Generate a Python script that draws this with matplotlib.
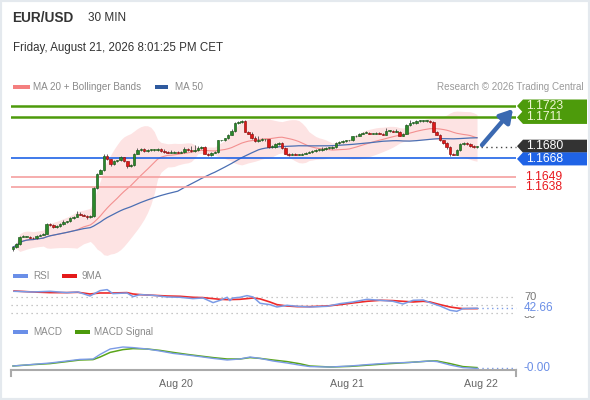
import numpy as np
import pandas as pd
import matplotlib
matplotlib.use("Agg")
import matplotlib.pyplot as plt
from matplotlib.patches import Polygon, Rectangle
from matplotlib.transforms import blended_transform_factory

plt.rcParams['font.family'] = ['Liberation Sans', 'DejaVu Sans']

W, H = 590, 400

# ---- price data (30 min candles, closes) ----
first_open = 1.1573
closes = [
    1.1575, 1.1578, 1.1586, 1.1586, 1.1586, 1.1585, 1.1584, 1.1587, 1.1588, 1.1589,
    1.1599, 1.1598, 1.1596, 1.1597, 1.1599, 1.1601, 1.1602, 1.1605, 1.1607, 1.1610,
    1.1609, 1.1608, 1.1606, 1.1608, 1.1637, 1.1652, 1.1656, 1.1671, 1.1667, 1.1662,
    1.1665, 1.1666, 1.1669, 1.1665, 1.1660, 1.1661, 1.1673, 1.1677, 1.1678, 1.1676,
    1.1677, 1.1677, 1.1677, 1.1678, 1.1676, 1.1675, 1.1674, 1.1674, 1.1675, 1.1674,
    1.1675, 1.1678, 1.1677, 1.1676, 1.1677, 1.1679, 1.1680, 1.1673, 1.1672, 1.1674,
    1.1675, 1.1687, 1.1687, 1.1689, 1.1693, 1.1697, 1.1705, 1.1706, 1.1707, 1.1696,
    1.1694, 1.1689, 1.1686, 1.1687, 1.1688, 1.1688, 1.1680, 1.1680, 1.1683, 1.1684,
    1.1679, 1.1673, 1.1672,
    1.1673, 1.1672, 1.1672, 1.1673, 1.1674, 1.1675, 1.1676, 1.1677, 1.1677, 1.1678,
    1.1679, 1.1679, 1.1680, 1.1684, 1.1685, 1.1686, 1.1687, 1.1687, 1.1691, 1.1692,
    1.1694, 1.1695, 1.1695, 1.1694, 1.1694, 1.1695, 1.1694, 1.1693, 1.1697, 1.1697,
    1.1696, 1.1696, 1.1692, 1.1694, 1.1703, 1.1705, 1.1705, 1.1707, 1.1707, 1.1707,
    1.1707, 1.1706, 1.1696, 1.1693, 1.1687, 1.1684, 1.1680, 1.1673, 1.1672, 1.1677,
    1.1683, 1.1684, 1.1683, 1.1681, 1.1680, 1.1680,
]
# wick lengths in pips above / below the body
wick_up = [
    1, 1, 1, 2, 1, 1, 1, 1, 1, 1,  2, 1, 2, 1, 1, 3, 1, 2, 1, 4,
    2, 1, 1, 1, 1, 1, 1, 2, 2, 1,  2, 1, 2, 1, 1, 1, 1, 2, 1, 1,
    1, 1, 1, 1, 1, 2, 1, 3, 1, 1,  1, 2, 1, 5, 6, 2, 1, 1, 1, 1,
    1, 1, 1, 1, 1, 2, 1, 1, 2, 1,  1, 2, 3, 6, 2, 1, 1, 2, 1, 2,
    1, 1, 1, 1, 1, 1, 1, 1, 1, 1,  1, 1, 2, 1, 1, 1, 1, 2, 1, 1,
    1, 1, 1, 1, 1, 2, 1, 1, 1, 1,  1, 3, 1, 1, 4, 1, 1, 1, 4, 2,
    1, 1, 1, 1, 1, 1, 1, 1, 1, 1,  1, 1, 1, 1, 2, 1, 1, 1, 1,
]
wick_dn = [
    3, 1, 1, 1, 1, 1, 1, 1, 1, 1,  1, 1, 1, 1, 1, 1, 1, 1, 1, 1,
    1, 1, 2, 1, 2, 1, 1, 1, 1, 2,  1, 1, 1, 1, 2, 1, 1, 1, 1, 1,
    1, 1, 1, 1, 1, 1, 1, 1, 1, 1,  1, 1, 1, 1, 1, 1, 1, 1, 2, 2,
    1, 1, 1, 1, 1, 1, 1, 1, 1, 1,  1, 1, 1, 1, 1, 2, 1, 1, 1, 1,
    2, 1, 2, 1, 1, 1, 1, 1, 1, 1,  1, 1, 1, 1, 1, 1, 1, 1, 1, 1,
    1, 1, 1, 1, 1, 1, 1, 1, 1, 1,  1, 1, 1, 1, 1, 1, 1, 1, 1, 1,
    1, 1, 1, 1, 1, 1, 1, 1, 1, 2,  3, 1, 1, 1, 1, 1, 1, 1, 1,
]

resist = [1.1723, 1.1711]
pivot = 1.1668
support = [1.1649, 1.1638]

date_pos = [48.5, 99.3, 139.2]
date_labels = ['Aug 20', 'Aug 21', 'Aug 22']

# ---- RSI panel ----
rsi_x = [0.3, 5.9, 11, 16, 19.3, 22.9, 25.9, 28, 29.7, 33.9, 35.7, 37.8, 41.6, 45.8,
         49.7, 53.5, 56.5, 59.5, 61.6, 63.7, 64.5, 65.4, 67.5, 69.6, 71.4, 73.5, 76.4,
         78.5, 81.5, 84.5, 88.3, 93.4, 97.3, 101.1, 105.3, 109.2, 113, 116, 119, 122,
         124, 127, 130, 132, 133.8, 138]
rsi = [85, 83.3, 85, 81.7, 83.3, 73.3, 86.7, 89.2, 79.2, 80.8, 71.7, 76.7, 75, 70.8,
       70, 66.7, 68.3, 56.7, 62.5, 70, 61.7, 68.3, 70, 74.2, 70.8, 55, 51.7,
       45.8, 50, 47.5, 45.8, 47.5, 54.2, 58.3, 65, 62.5, 60, 53.3, 62.5, 63.3,
       56.7, 48.3, 37.5, 35, 41.7, 42.66]
ma9_x = [0.3, 5.9, 11, 16, 19.3, 22.9, 25.9, 29.7, 33.9, 35.7, 37.8, 41.6, 45.8, 49.7,
         53.5, 56.5, 59.5, 61.6, 63.7, 67.5, 69.6, 71.4, 73.5, 76.4, 78.5, 81.5, 84.5,
         88.3, 93.4, 97.3, 101.1, 105.3, 109.2, 113, 116, 119, 122, 124, 127, 130, 132,
         133.8, 138]
ma9 = [85.8, 83.3, 81.7, 81.7, 82.5, 78.3, 80.8, 80.8, 81.7, 78.3, 76.7, 75, 73.3, 72.5,
       70, 69.2, 66.7, 65, 64.2, 65, 66.7, 68.3, 66, 58.3, 51.7, 48.3, 46.7,
       46.7, 48.3, 51.7, 55.8, 60, 62.5, 61.7, 60, 58.3, 60, 58.3, 51.7, 45.8, 43.3,
       41.7, 41.7]
rsi_levels = [70, 50, 30]

# ---- MACD panel ----
macd_x = [0, 5.9, 11, 16, 19.9, 23.8, 25.9, 28.9, 32.7, 35.7, 39.9, 43.7, 47.6, 51.8,
          55.6, 59.5, 63.7, 67.5, 70.5, 73.5, 77.3, 81.5, 85.4, 88.3, 94.3, 100.2,
          106.2, 112.1, 118.1, 124, 126.1, 130, 133.8, 138]
macd = [0.00010, 0.00018, 0.00025, 0.00035, 0.00043, 0.00045, 0.00068, 0.00095, 0.00105,
        0.00102, 0.00095, 0.00085, 0.00073, 0.00065, 0.00057, 0.00048, 0.00040, 0.00045,
        0.00055, 0.00048, 0.00035, 0.00025, 0.00014, 0.00007, 0.00005, 0.00010, 0.00018,
        0.00025, 0.00028, 0.00035, 0.00032, 0.00015, 0.00002, -0.00002]
signal = [0.00010, 0.00017, 0.00022, 0.00032, 0.00040, 0.00042, 0.00055, 0.00078, 0.00092,
          0.00097, 0.00095, 0.00088, 0.00078, 0.00068, 0.00060, 0.00052, 0.00045, 0.00045,
          0.00052, 0.00048, 0.00040, 0.00032, 0.00021, 0.00010, 0.00005, 0.00008, 0.00015,
          0.00022, 0.00028, 0.00035, 0.00035, 0.00022, 0.00007, 0.00002]


fig = plt.figure(figsize=(W / 100, H / 100), dpi=100)
fig.patch.set_facecolor('white')


def px_axes(left, top, right, bottom):
    a = fig.add_axes([left / W, 1 - bottom / H, (right - left) / W, (bottom - top) / H])
    a.set_facecolor('none')
    for sp in a.spines.values():
        sp.set_visible(False)
    a.set_xticks([])
    a.set_yticks([])
    return a


def ftext(x, y, s, **kw):
    kw.setdefault('va', 'center')
    fig.text(x / W, 1 - y / H, s, **kw)


def fbox(x0, y0, x1, y1, color):
    fig.add_artist(Rectangle((x0 / W, 1 - y1 / H), (x1 - x0) / W, (y1 - y0) / H,
                             transform=fig.transFigure, color=color, lw=0))


XMIN, XMAX = -0.6, 149.6
PX_PER_PRICE = 9529.4

# ---- header ----
ftext(12, 18, 'EUR/USD', fontsize=9.8, fontweight='bold', color='#333333')
ftext(88, 18, '30 MIN', fontsize=8.5, color='#333333')
ftext(13, 48, 'Friday, August 21, 2026 8:01:25 PM CET', fontsize=8.3, color='#333333')

legend_gray = '#8a8a8a'
fbox(13, 84.5, 30, 88.5, '#f47f7f')
ftext(33, 86.5, 'MA 20 + Bollinger Bands', fontsize=7.1, color=legend_gray)
fbox(155, 84.5, 168, 88.5, '#2f5a9e')
ftext(175, 86.5, 'MA 50', fontsize=7.1, color=legend_gray)
ftext(584, 86.5, 'Research \u00a9 2026 Trading Central', fontsize=7.1, color='#9a9a9a', ha='right')

fbox(13, 274, 28, 278, '#6a8fe8')
ftext(33, 276, 'RSI', fontsize=7.1, color=legend_gray)
fbox(62, 274, 77, 278, '#e41a1a')
ftext(82, 276, '9MA', fontsize=7.1, color=legend_gray)

fbox(13, 330, 28, 334, '#6a8fe8')
ftext(33, 332, 'MACD', fontsize=7.1, color=legend_gray)
fbox(75, 330, 90, 334, '#4c9a0c')
ftext(94, 332, 'MACD Signal', fontsize=7.1, color=legend_gray)

# ---- price panel ----
ax = px_axes(11, 95, 516, 268)
n = len(closes)
idx = np.arange(n)
c = np.array(closes)
o = np.r_[first_open, c[:-1]]
pip = 0.0001
hi = np.maximum(o, c) + np.array(wick_up) * pip * 0.8
lo = np.minimum(o, c) - np.array(wick_dn) * pip * 0.8

s = pd.Series(c)
ma20 = s.rolling(20, min_periods=1).mean()
sd20 = s.rolling(20, min_periods=1).std(ddof=0)
ma50 = s.rolling(50, min_periods=1).mean()
ax.fill_between(idx, ma20 - 2 * sd20, ma20 + 2 * sd20, color='#fde3e3', lw=0, zorder=1)
ax.plot(idx, ma20, color='#f39090', lw=0.8, zorder=2)
ax.plot(idx, ma50, color='#4b6fb3', lw=0.9, zorder=2)

for lv in resist:
    ax.axhline(lv, color='#4d9b0b', lw=1.8, zorder=2.5)
ax.axhline(pivot, color='#1f63e6', lw=1.2, zorder=2.5)
for lv in support:
    ax.axhline(lv, color='#f5a0a0', lw=1.2, zorder=2.5)

up = c >= o
face = np.where(up, '#2a892a', '#e01818')
edge = np.where(up, '#1a561a', '#8a0e0e')
ax.vlines(idx, lo, hi, color='#4a4a4a', lw=0.6, zorder=3)
ax.bar(idx, np.maximum(np.abs(c - o), 0.00008), bottom=np.minimum(o, c), width=0.74,
       color=face, edgecolor=edge, linewidth=0.45, zorder=4)

# last price dotted guide and forecast arrow
ax.plot([n + 0.3, XMAX], [c[-1], c[-1]], color='#444444', ls=(0, (1, 2.5)), lw=1,
        clip_on=False, zorder=5)
ax.annotate('', xy=(148.7, resist[0] - 3 / PX_PER_PRICE), xytext=(n + 0.5, c[-1] + 2 / PX_PER_PRICE),
            arrowprops=dict(arrowstyle='-|>,head_length=0.75,head_width=0.45', color='#3b69b1',
                            lw=3.2, shrinkA=0, shrinkB=0),
            annotation_clip=False, zorder=7)

trans = blended_transform_factory(fig.transFigure, ax.transData)
hh = 6.5 / PX_PER_PRICE


def tag(level, text, face_c, text_c):
    y0, y1 = level - hh, level + hh
    pts = [(517 / W, level), (523 / W, y1), (587 / W, y1), (587 / W, y0), (523 / W, y0)]
    ax.add_patch(Polygon(pts, closed=True, transform=trans, facecolor=face_c,
                         edgecolor='none', clip_on=False, zorder=6))
    ax.text(526 / W, level, text, transform=trans, color=text_c, fontsize=8.7,
            va='center', ha='left', clip_on=False, zorder=7)


for lv in resist:
    tag(lv, f'{lv:.4f}', '#4d9b0b', '#eef6d2')
tag(c[-1] + 0.8 / PX_PER_PRICE, f'{c[-1]:.4f}', '#333333', 'white')
tag(pivot - 0.5 / PX_PER_PRICE, f'{pivot:.4f}', '#1f63e6', 'white')
for lv in support:
    ax.text(525 / W, lv, f'{lv:.4f}', transform=trans, color='#e8191e', fontsize=8.7,
            va='center', ha='left', clip_on=False)
ax.set_xlim(XMIN, XMAX)
ax.set_ylim(1.1723 - 162 / PX_PER_PRICE, 1.1723 + 11 / PX_PER_PRICE)

# ---- RSI panel ----
axr = px_axes(11, 285, 516, 322)
for lv in rsi_levels:
    axr.axhline(lv, color='#b5b5b5', ls=(0, (1, 3)), lw=0.9, zorder=1)
axr.plot(rsi_x, rsi, color='#7b9be6', lw=1.1, zorder=3)
axr.plot(ma9_x, ma9, color='#ee2a2a', lw=1.2, zorder=2)
axr.plot([rsi_x[-1], XMAX], [rsi[-1], rsi[-1]], color='#7b9be6', ls=(0, (1, 2.5)), lw=1,
         clip_on=False)
axr.set_xlim(XMIN, XMAX)
axr.set_ylim(8.25, 100.75)
tr_r = blended_transform_factory(fig.transFigure, axr.transData)
axr.text(524 / W, 70, '70', transform=tr_r, color='#777777', fontsize=8, va='center', clip_on=False)
axr.text(524 / W, 26.5, '30', transform=tr_r, color='#777777', fontsize=8, va='center',
         clip_on=False, zorder=4)
axr.text(524 / W, rsi[-1], f'{rsi[-1]:.2f}', transform=tr_r, color='#6a8ee6', fontsize=8.5,
         va='center', clip_on=False, zorder=5,
         bbox=dict(boxstyle='square,pad=0.12', fc='white', ec='none'))

# ---- MACD panel ----
axm = px_axes(11, 338, 516, 370)
axm.plot(macd_x, signal, color='#5aa51a', lw=1.1, zorder=2)
axm.plot(macd_x, macd, color='#7b9be6', lw=1.0, zorder=3)
axm.plot([macd_x[-1], XMAX], [macd[-1], macd[-1]], color='#7b9be6', ls=(0, (1, 2.5)), lw=1,
         clip_on=False)
axm.set_xlim(XMIN, XMAX)
axm.set_ylim(-0.0001, 0.0015)
axm.spines['bottom'].set_visible(True)
axm.spines['bottom'].set_color('#aaaaaa')
axm.spines['bottom'].set_linewidth(1.5)
axm.set_xticks(date_pos)
axm.set_xticklabels(date_labels, fontsize=7.7, color='#666666')
axm.tick_params(axis='x', length=0, pad=6.5)
for xe in (0, 1):
    axm.plot([xe, xe], [0, -6 / 32], transform=axm.transAxes, color='#aaaaaa', lw=1.5,
             clip_on=False)
tr_m = blended_transform_factory(fig.transFigure, axm.transData)
axm.text(524 / W, macd[-1], f'{macd[-1]:.2f}' if macd[-1] >= 0 else '-0.00', transform=tr_m,
         color='#6a8ee6', fontsize=8.5, va='center', clip_on=False)

# light frame round the card
fig.add_artist(Rectangle((0, 0), 1, 1, transform=fig.transFigure, fill=False,
                         edgecolor='#e4e9ee', lw=3))

fig.savefig('out.png', dpi=100, facecolor='white')
